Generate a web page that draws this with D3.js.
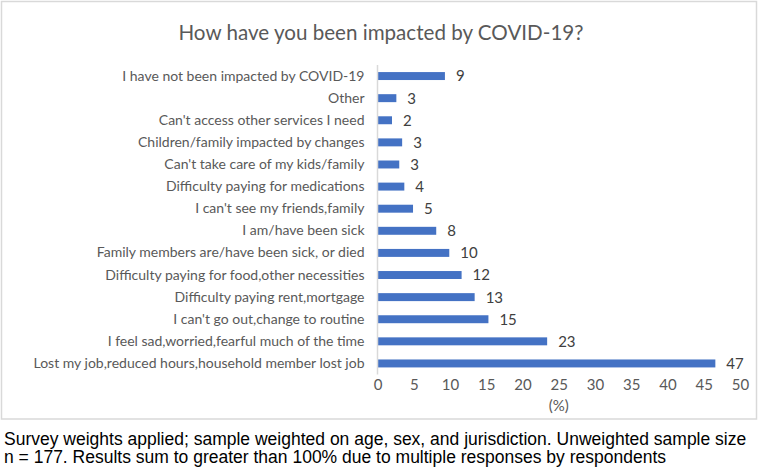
<!DOCTYPE html>
<html>
<head>
<meta charset="utf-8">
<script src="https://cdn.jsdelivr.net/npm/d3@7"></script>
<style>
  html, body { margin: 0; padding: 0; background: #fff; }
  svg { display: block; }
</style>
</head>
<body>
<svg id="chart" width="760" height="468"></svg>
<script>
const categories = [
  "I have not been impacted by COVID-19",
  "Other",
  "Can't access other services I need",
  "Children/family impacted by changes",
  "Can't take care of my kids/family",
  "Difficulty paying for medications",
  "I can't see my friends,family",
  "I am/have been sick",
  "Family members are/have been sick, or died",
  "Difficulty paying for food,other necessities",
  "Difficulty paying rent,mortgage",
  "I can't go out,change to routine",
  "I feel sad,worried,fearful much of the time",
  "Lost my job,reduced hours,household member lost job"
];
const values = [9.3, 2.6, 2.0, 3.4, 3.0, 3.7, 4.9, 8.1, 9.9, 11.6, 13.4, 15.3, 23.4, 46.6];
const xTicks = [0, 5, 10, 15, 20, 25, 30, 35, 40, 45, 50];
const title = "How have you been impacted by COVID-19?";
const xTitle = "(%)";
const footnote = [
  "Survey weights applied; sample weighted on age, sex, and jurisdiction. Unweighted sample size",
  "n = 177. Results sum to greater than 100% due to multiple responses by respondents"
];

const svg = d3.select("#chart");
const uiFont = "Lato, 'Open Sans', sans-serif";
const textColor = "#595959";

// frame
svg.append("rect")
  .attr("x", 1.5).attr("y", 1.5)
  .attr("width", 755).attr("height", 417.5)
  .attr("fill", "#fff").attr("stroke", "#d9d9d9").attr("stroke-width", 1.5);

// title
svg.append("text")
  .attr("x", 381).attr("y", 39.5)
  .attr("text-anchor", "middle")
  .style("font-family", uiFont).style("font-size", "20.6px")
  .attr("fill", textColor)
  .text(title);

const x = d3.scaleLinear().domain([0, 50]).range([377.5, 740]);
const y = d3.scaleBand().domain(categories).range([65, 374.5]).paddingInner(0.64).paddingOuter(0.32);

// bars
svg.append("g").selectAll("rect")
  .data(categories)
  .join("rect")
  .attr("x", x(0))
  .attr("y", d => y(d))
  .attr("width", (d, i) => x(values[i]) - x(0))
  .attr("height", y.bandwidth())
  .attr("fill", "#4472c4");

// value labels
svg.append("g").selectAll("text")
  .data(categories)
  .join("text")
  .attr("x", (d, i) => x(values[i]) + 11)
  .attr("y", d => y(d) + y.bandwidth() / 2)
  .attr("dy", "0.36em")
  .style("font-family", uiFont).style("font-size", "15px")
  .attr("fill", "#404040")
  .text((d, i) => d3.format(".0f")(values[i]));

// y axis
const yAxis = svg.append("g")
  .attr("transform", `translate(${x(0)},0)`)
  .call(d3.axisLeft(y).tickSize(0).tickPadding(13));
yAxis.select(".domain").attr("stroke", "#d9d9d9").attr("stroke-width", 1.5)
  .attr("d", `M0,${y.range()[0]}V${y.range()[1]}`);
yAxis.selectAll("text")
  .style("font-family", uiFont).style("font-size", "14px")
  .attr("fill", textColor);

// x axis (labels only)
const xAxis = svg.append("g")
  .attr("transform", `translate(0,${y.range()[1]})`)
  .call(d3.axisBottom(x).tickValues(xTicks).tickSize(0).tickPadding(5).tickFormat(d3.format("d")));
xAxis.select(".domain").remove();
xAxis.selectAll("text")
  .style("font-family", uiFont).style("font-size", "15px")
  .attr("fill", textColor);

// x title
svg.append("text")
  .attr("x", (x(0) + x(50)) / 2).attr("y", 411)
  .attr("text-anchor", "middle")
  .style("font-family", uiFont).style("font-size", "15px")
  .attr("fill", textColor)
  .text(xTitle);

// footnote
svg.append("g").selectAll("text")
  .data(footnote)
  .join("text")
  .attr("x", 4)
  .attr("y", (d, i) => 444.5 + i * 18.5)
  .style("font-family", "'Liberation Sans', Arial, sans-serif").style("font-size", "17.5px")
  .attr("fill", "#000")
  .text(d => d);
</script>
</body>
</html>
